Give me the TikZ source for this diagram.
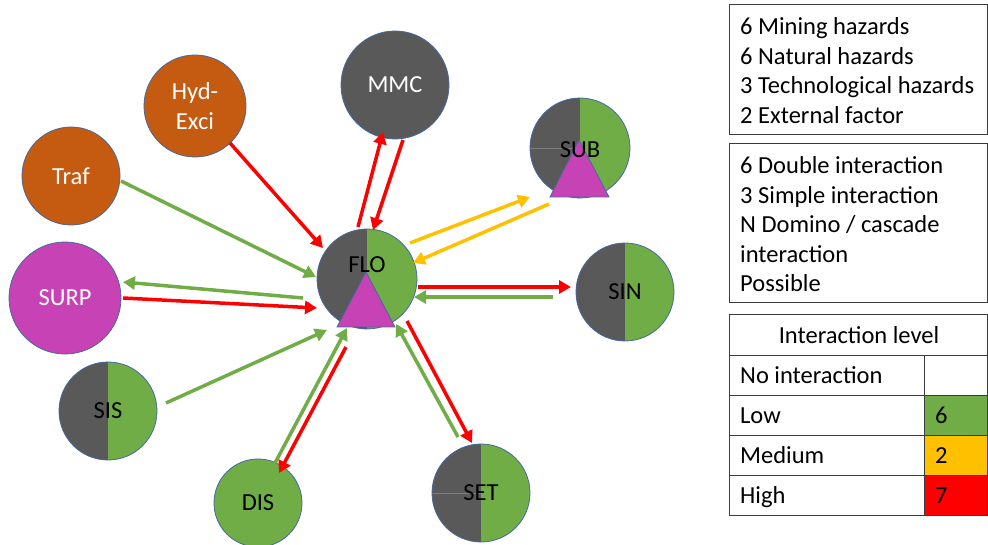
\documentclass[tikz,border=0pt]{standalone}
\usepackage{fontspec}
\setmainfont{Carlito}
\usetikzlibrary{calc,arrows.meta}
\definecolor{dkgray}{RGB}{89,89,89}
\definecolor{grn}{RGB}{112,173,71}
\definecolor{orng}{RGB}{197,90,17}
\definecolor{mag}{RGB}{199,66,180}
\definecolor{yel}{RGB}{255,192,0}
\definecolor{rd}{RGB}{255,0,0}
\definecolor{edgeblue}{RGB}{68,105,160}
\definecolor{legline}{RGB}{60,60,60}
\definecolor{qline}{RGB}{125,125,125}
\tikzset{
  haz/.style={circle, draw=edgeblue, line width=0.8pt, inner sep=0pt, minimum size=#1,
              font=\fontsize{24.5}{29}\selectfont, align=center},
  whitetext/.style={text=white},
  halfcirc/.style={path picture={
      \fill[dkgray] (path picture bounding box.south west) rectangle (path picture bounding box.north);
      \fill[grn] (path picture bounding box.south) rectangle (path picture bounding box.north east);}},
  quartercirc/.style={path picture={
      \fill[dkgray] (path picture bounding box.south west) rectangle (path picture bounding box.north);
      \fill[grn] (path picture bounding box.south) rectangle (path picture bounding box.north east);
      \draw[qline, line width=0.7pt] (path picture bounding box.west) -- (path picture bounding box.center);}},
  tri/.style={fill=mag, draw=edgeblue, line width=0.8pt, line join=miter},
  lbl/.style={font=\fontsize{24.5}{29}\selectfont, inner sep=0pt},
  arr/.style={line width=3.5pt, -{Triangle[length=12pt,width=13pt]}},
  redarr/.style={arr, draw=rd},
  grnarr/.style={arr, draw=grn},
  yelarr/.style={arr, draw=yel},
  legbox/.style={draw=legline, line width=1pt},
  legtxt/.style={font=\fontsize{24.5}{29}\selectfont, inner sep=0pt, anchor=base west},
}
\begin{document}
\begin{tikzpicture}[x=1pt,y=-1pt]
\useasboundingbox (0,0) rectangle (988,545);
% hazard nodes
\node[haz=108pt, fill=dkgray, whitetext] (MMC) at (395,85) {MMC};
\node[haz=102pt, fill=orng, whitetext, font=\fontsize{24.5}{30}\selectfont] (HYD) at (195,106) {Hyd-\\Exci};
\node[haz=98pt, fill=orng, whitetext] (TRAF) at (71,176) {Traf};
\node[haz=112pt, fill=mag, whitetext] (SURP) at (65,298) {SURP};
\node[haz=98pt, halfcirc] (SIS) at (108,411) {SIS};
\node[haz=88pt, fill=grn] (DIS) at (258,503) {DIS};
\node[haz=98pt, quartercirc] (SET) at (481,493) {SET};
\node[haz=98pt, halfcirc] (SIN) at (625,292) {SIN};
\node[haz=100pt, quartercirc] (SUB) at (580,148) {};
\node[haz=100pt, halfcirc] (FLO) at (367,279) {};
% triangles
\draw[tri] ($(FLO)+(-1,-7)$) -- ($(FLO)+(28,48)$) -- ($(FLO)+(-30,48)$) -- cycle;
\draw[tri] ($(SUB)+(-1,-8)$) -- ($(SUB)+(29,49)$) -- ($(SUB)+(-30,49)$) -- cycle;
\node[lbl] (FLOt) at ($(FLO)+(0,-14)$) {FLO};
\node[lbl] (SUBt) at ($(SUB)+(0,2)$) {SUB};
% connectors
\draw[redarr] ($(HYD)+(35,37)$) -- ($(FLO)+(-44,-31)$);
\draw[redarr] ($(FLO)+(-9,-52)$) -- ($(MMC)+(-12,47)$);
\draw[redarr] ($(MMC)+(8,55)$) -- ($(FLO)+(6,-49)$);
\draw[grnarr] ($(TRAF)+(50,5)$) -- ($(FLO)+(-51,-2)$);
\draw[grnarr] ($(FLO)+(-64,19)$) -- ($(SURP)+(58,-16)$);
\draw[redarr] ($(SURP)+(58,0)$) -- ($(FLO)+(-50,29)$);
\draw[grnarr] ($(SIS)+(58,-8)$) -- ($(FLO)+(-40,51)$);
\draw[grnarr] ($(DIS)+(17,-40)$) -- ($(FLO)+(-20,49)$);
\draw[redarr] ($(FLO)+(-21,68)$) -- ($(DIS)+(21,-30)$);
\draw[grnarr] ($(SET)+(-23,-56)$) -- ($(FLO)+(29,45)$);
\draw[redarr] ($(FLO)+(40,42)$) -- ($(SET)+(-9,-50)$);
\draw[redarr] ($(FLO)+(51,8)$) -- ($(SIN)+(-54,-5)$);
\draw[grnarr] ($(SIN)+(-72,5)$) -- ($(FLO)+(47,18)$);
\draw[yelarr] ($(FLO)+(43,-36)$) -- ($(SUB)+(-50,49)$);
\draw[yelarr] ($(SUB)+(-31,56)$) -- ($(FLO)+(46,-16)$);
% legend box 1
\draw[legbox] (729,5) rectangle (987,135);
\node[legtxt] (l1) at (740,35) {6 Mining hazards};
\node[legtxt] (l2) at (740,64.5) {6 Natural hazards};
\node[legtxt] (l3) at (740,94) {3 Technological hazards};
\node[legtxt] (l4) at (740,123.5) {2 External factor};
% legend box 2
\draw[legbox] (729,144) rectangle (987,303);
\node[legtxt] (m1) at (740,174) {6 Double interaction};
\node[legtxt] (m2) at (740,203.5) {3 Simple interaction};
\node[legtxt] (m3) at (740,233) {N Domino / cascade};
\node[legtxt] (m4) at (740,262.5) {interaction};
\node[legtxt] (m5) at (740,292) {Possible};
% table
\fill[grn] (924,395) rectangle (987,435);
\fill[yel] (924,435) rectangle (987,475);
\fill[rd] (924,475) rectangle (987,515);
\draw[legbox] (729,315) rectangle (987,515);
\draw[legbox] (729,355) -- (987,355) (729,395) -- (987,395) (729,435) -- (987,435) (729,475) -- (987,475);
\draw[legbox] (924,355) -- (924,515);
\node[legtxt, anchor=base] (th) at (859,343) {Interaction level};
\node[legtxt] (r1) at (740,383) {No interaction};
\node[legtxt] (r2) at (740,423) {Low};
\node[legtxt] (r3) at (740,463) {Medium};
\node[legtxt] (r4) at (740,503) {High};
\node[legtxt] (v2) at (935,423) {6};
\node[legtxt] (v3) at (935,463) {2};
\node[legtxt] (v4) at (935,503) {7};
\end{tikzpicture}
\end{document}
